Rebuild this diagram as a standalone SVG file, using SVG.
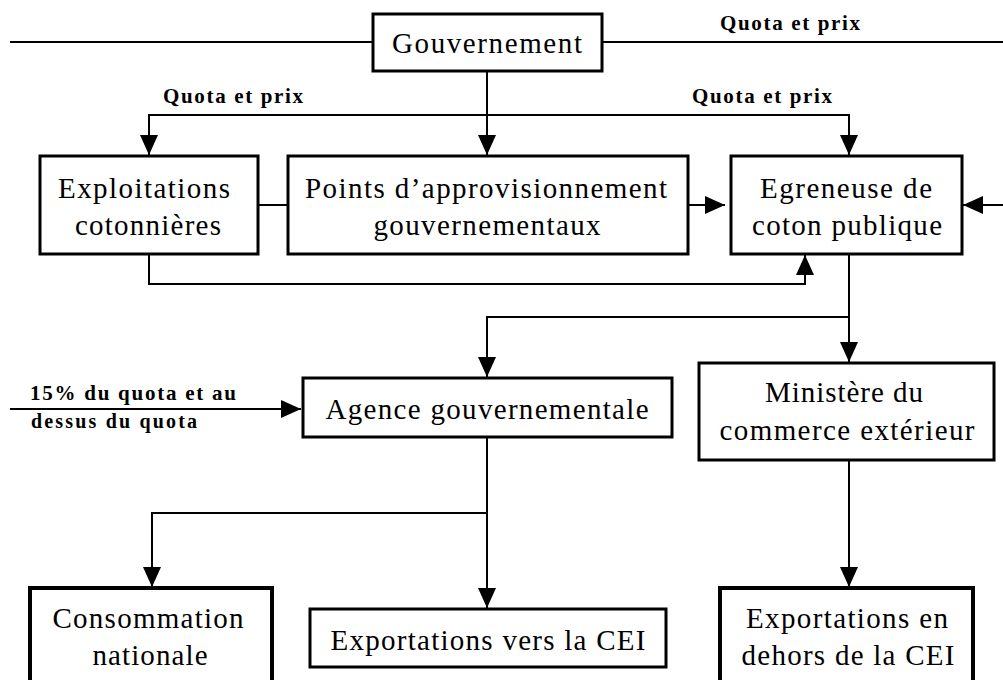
<svg xmlns="http://www.w3.org/2000/svg" width="1003" height="680" viewBox="0 0 1003 680">
<style>
.box{fill:#fff;stroke:#000;stroke-width:3}
.thick{stroke-width:4}
.lbl{font-family:"Liberation Serif","Times New Roman",serif;font-size:29px;fill:#000;text-anchor:middle}
.sm{font-family:"Liberation Serif","Times New Roman",serif;font-size:21px;font-weight:bold;fill:#000;text-anchor:middle}
.sm2{font-family:"Liberation Serif","Times New Roman",serif;font-size:20px;font-weight:bold;fill:#000;text-anchor:middle}
.c{fill:none;stroke:#000;stroke-width:2}
.a{marker-end:url(#arr)}
</style>
<defs>
<marker id="arr" markerUnits="userSpaceOnUse" markerWidth="20" markerHeight="18" refX="20" refY="9" orient="auto">
<path d="M0,0 L20,9 L0,18 Z" fill="#000"/>
</marker>
</defs>
<rect width="1003" height="680" fill="#fff"/>
<g id="connectors">
<path class="c" d="M10,42 H373 M602,42 H1003"/>
<path class="c a" d="M487,71 V155"/>
<path class="c a" d="M487,115 H149 V155"/>
<path class="c a" d="M487,115 H849 V155"/>
<path class="c" d="M258,205 H288"/>
<path class="c a" d="M688,205 H725"/>
<path class="c a" d="M1003,205 H963"/>
<path class="c a" d="M149,254 V284 H805 V255"/>
<path class="c a" d="M849,254 V317 H487 V377"/>
<path class="c a" d="M849,317 V362"/>
<path class="c a" d="M10,409 H301"/>
<path class="c a" d="M487,437 V608"/>
<path class="c a" d="M487,513 H152 V587"/>
<path class="c a" d="M849,460 V587"/>
<text class="sm" x="790" y="30" textLength="140" lengthAdjust="spacing">Quota et prix</text>
<text class="sm" x="233" y="103" textLength="140" lengthAdjust="spacing">Quota et prix</text>
<text class="sm" x="762" y="103" textLength="140" lengthAdjust="spacing">Quota et prix</text>
<text class="sm" x="133" y="400" font-size="22" textLength="206" lengthAdjust="spacing">15% du quota et au</text>
<text class="sm2" x="114" y="428" textLength="166" lengthAdjust="spacing">dessus du quota</text>
</g>
<g id="gouvernement">
<rect class="box" x="373" y="14" width="229" height="57"/>
<text class="lbl" x="487" y="53" textLength="190" lengthAdjust="spacing">Gouvernement</text>
</g>
<g id="exploitations">
<rect class="box" x="40" y="156" width="218" height="98"/>
<text class="lbl" x="144" y="198" textLength="172" lengthAdjust="spacing">Exploitations</text>
<text class="lbl" x="148" y="235" textLength="146" lengthAdjust="spacing">cotonnières</text>
</g>
<g id="points">
<rect class="box" x="288" y="156" width="400" height="98"/>
<text class="lbl" x="486" y="198" textLength="362" lengthAdjust="spacing">Points d’approvisionnement</text>
<text class="lbl" x="487" y="235" textLength="227" lengthAdjust="spacing">gouvernementaux</text>
</g>
<g id="egreneuse">
<rect class="box" x="731" y="156" width="231" height="98"/>
<text class="lbl" x="846" y="198" textLength="172" lengthAdjust="spacing">Egreneuse de</text>
<text class="lbl" x="847" y="235" textLength="190" lengthAdjust="spacing">coton publique</text>
</g>
<g id="agence">
<rect class="box" x="303" y="378" width="369" height="59"/>
<text class="lbl" x="487" y="419" textLength="323" lengthAdjust="spacing">Agence gouvernementale</text>
</g>
<g id="ministere">
<rect class="box" x="699" y="363" width="295" height="97"/>
<text class="lbl" x="844" y="402" textLength="158" lengthAdjust="spacing">Ministère du</text>
<text class="lbl" x="847" y="440" textLength="255" lengthAdjust="spacing">commerce extérieur</text>
</g>
<g id="consommation">
<rect class="box thick" x="30" y="588" width="242" height="120"/>
<text class="lbl" x="148" y="628" textLength="191" lengthAdjust="spacing">Consommation</text>
<text class="lbl" x="150" y="665" textLength="115" lengthAdjust="spacing">nationale</text>
</g>
<g id="export-cei">
<rect class="box" x="310" y="609" width="356" height="58"/>
<text class="lbl" x="488" y="650" textLength="315" lengthAdjust="spacing">Exportations vers la CEI</text>
</g>
<g id="export-hors">
<rect class="box thick" x="720" y="588" width="253" height="120"/>
<text class="lbl" x="847" y="628" textLength="202" lengthAdjust="spacing">Exportations en</text>
<text class="lbl" x="848" y="665" textLength="213" lengthAdjust="spacing">dehors de la CEI</text>
</g>
</svg>
